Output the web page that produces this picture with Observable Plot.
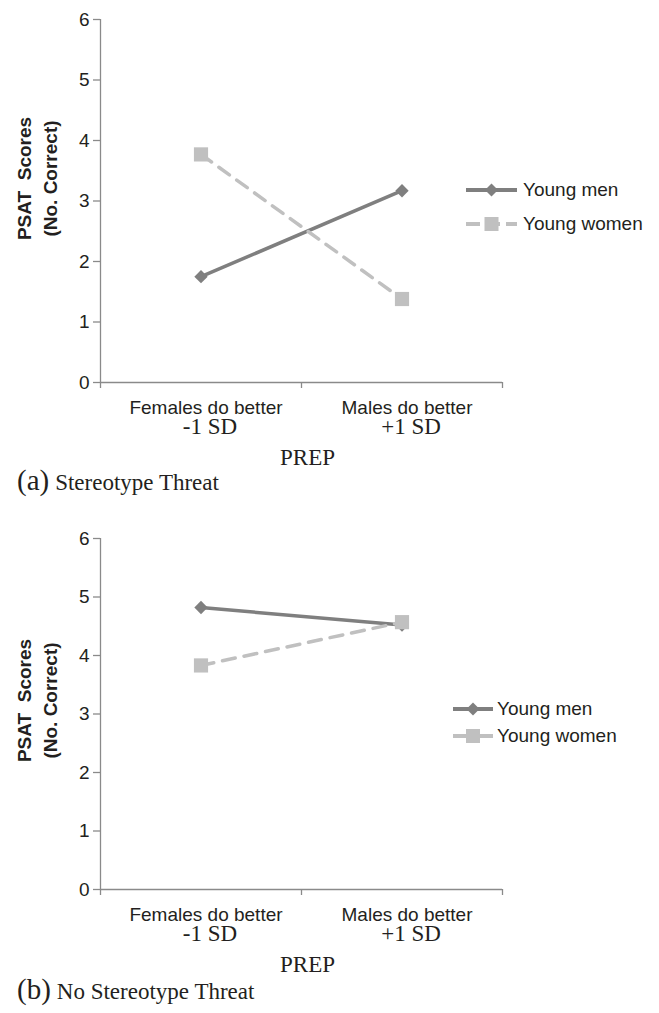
<!DOCTYPE html>
<html><head><meta charset="utf-8">
<script src="https://cdn.jsdelivr.net/npm/d3@7"></script>
<script src="https://cdn.jsdelivr.net/npm/@observablehq/plot@0.6"></script>
<style>
body{margin:0;background:#fff;}
#root{position:relative;width:659px;height:1013px;overflow:hidden;background:#fff;}
.panel{position:absolute;left:0;}
.panel svg{display:block;}
.legend-row{position:absolute;display:flex;align-items:center;white-space:nowrap;height:24px;font-family:"Liberation Sans",Arial,sans-serif;font-size:19px;color:#231f20;}
.legend-row svg{display:block;}
.caption{position:absolute;left:17px;font-family:"Liberation Serif","Times New Roman",serif;color:#231f20;white-space:nowrap;font-size:29px;line-height:30px;}
.caption span{font-size:23px;margin-left:6px;}
</style></head><body><div id="root"></div>
<script>
// ---- data ----
const categories = ["Females do better", "Males do better"];
const sdLabels = ["-1 SD", "+1 SD"];
const series = ["Young men", "Young women"];
const yTicks = [0, 1, 2, 3, 4, 5, 6];
const xLabel = "PREP";
const yTitle = "PSAT\u00A0 Scores\n(No. Correct)";
const threatMen = [1.75, 3.17];
const threatWomen = [3.77, 1.38];
const noThreatMen = [4.82, 4.52];
const noThreatWomen = [3.83, 4.57];
const captionLetters = ["(a)", "(b)"];
const captionTexts = ["Stereotype Threat", "No Stereotype Threat"];

// ---- styles ----
const menColor = "#7f7f7f";
const womenColor = "#c0c0c0";
const axisColor = "#8a8a8a";
const textColor = "#231f20";
const serif = "Liberation Serif, Times New Roman, serif";
const sans = "Liberation Sans, Arial, sans-serif";

const root = document.getElementById("root");

function makePanel(cfg) {
  const menRows = categories.map((c, i) => ({series: series[0], pos: i + 0.5, value: cfg.men[i]}));
  const womenRows = categories.map((c, i) => ({series: series[1], pos: i + 0.5, value: cfg.women[i]}));
  const labels = categories.map((c, i) => ({pos: i + 0.5, cat: c, sd: sdLabels[i]}));
  const n = categories.length;
  const plot = Plot.plot({
    width: 659,
    height: cfg.height,
    marginTop: cfg.marginTop,
    marginBottom: 85,
    marginLeft: 100,
    marginRight: 157,
    style: {fontFamily: sans, fontSize: "19px", color: textColor, background: "transparent", overflow: "visible"},
    x: {domain: [0, n], axis: null},
    y: {domain: [yTicks[0], yTicks[yTicks.length - 1]], axis: null},
    marks: [
      Plot.ruleY([yTicks[0]], {x1: 0, x2: n, stroke: axisColor, strokeWidth: 1.3}),
      Plot.ruleX([0], {y1: yTicks[0], y2: yTicks[yTicks.length - 1], stroke: axisColor, strokeWidth: 1.3}),
      Plot.axisY({ticks: yTicks, tickSize: 7, tickPadding: 4, stroke: axisColor, strokeWidth: 1.3, label: null, fontSize: 19, fill: textColor, tickFormat: d3.format("d")}),
      Plot.axisX({ticks: d3.range(n + 1), tickSize: 6, stroke: axisColor, strokeWidth: 1.3, label: null, tickFormat: () => ""}),
      Plot.text(labels, {x: "pos", text: "cat", frameAnchor: "bottom", lineAnchor: "bottom", dy: cfg.catDy, dx: 5, fill: textColor, fontSize: 19}),
      Plot.text(labels, {x: "pos", text: "sd", frameAnchor: "bottom", lineAnchor: "bottom", dy: cfg.catDy + 20, dx: 9, fill: textColor, fontSize: 23, fontFamily: serif}),
      Plot.text([xLabel], {text: d => d, frameAnchor: "bottom", lineAnchor: "bottom", dy: cfg.catDy + 51, dx: 6, fill: textColor, fontSize: 23, fontFamily: serif}),
      Plot.text([yTitle], {text: d => d, frameAnchor: "left", textAnchor: "middle", lineAnchor: "middle", rotate: -90, dx: -65, dy: cfg.titleDy, lineHeight: 1.37, fontWeight: "bold", fontSize: 19, fill: textColor}),
      Plot.line(menRows, {x: "pos", y: "value", stroke: menColor, strokeWidth: 3.5}),
      Plot.line(womenRows, {x: "pos", y: "value", stroke: womenColor, strokeWidth: 3.5, strokeDasharray: "13,9"}),
      Plot.dot(menRows, {x: "pos", y: "value", symbol: "diamond2", r: 6, fill: menColor}),
      Plot.dot(womenRows, {x: "pos", y: "value", symbol: "square", r: 8, fill: womenColor})
    ]
  });
  const wrap = document.createElement("div");
  wrap.className = "panel";
  wrap.style.top = cfg.top + "px";
  wrap.appendChild(plot);
  root.appendChild(wrap);

  // legend
  const L = cfg.legend;
  const items = [
    {label: series[0], color: menColor, marker: "diamond", dash: null, y: L.y[0]},
    {label: series[1], color: womenColor, marker: "square", dash: L.womenDash, y: L.y[1]}
  ];
  for (const it of items) {
    const row = document.createElement("div");
    row.className = "legend-row";
    row.style.left = L.x + "px";
    row.style.top = (it.y - 12) + "px";
    const w = L.w, c = w / 2;
    const marker = it.marker === "diamond"
      ? `<polygon points="${c},5.5 ${c + 6.5},12 ${c},18.5 ${c - 6.5},12" fill="${it.color}"/>`
      : `<rect x="${c - 7}" y="5" width="14" height="14" fill="${it.color}"/>`;
    row.innerHTML = `<svg width="${w}" height="24"><line x1="0" x2="${w}" y1="12" y2="12" stroke="${it.color}" stroke-width="4" ${it.dash ? `stroke-dasharray="${it.dash}"` : ""}/>${marker}</svg><span style="margin-left:${L.gap}px">${it.label}</span>`;
    root.appendChild(row);
  }

  // caption
  const cap = document.createElement("div");
  cap.className = "caption";
  cap.style.top = cfg.captionTop + "px";
  cap.innerHTML = `${cfg.letter}<span>${cfg.caption}</span>`;
  root.appendChild(cap);
}

makePanel({
  men: threatMen, women: threatWomen,
  top: 0, height: 467, marginTop: 19, catDy: 31, titleDy: -22.5,
  legend: {x: 466, w: 51, gap: 6, y: [190, 224], womenDash: "14,6"},
  letter: captionLetters[0], caption: captionTexts[0], captionTop: 465
});
makePanel({
  men: noThreatMen, women: noThreatWomen,
  top: 489, height: 485, marginTop: 49, catDy: 31, titleDy: -13.5,
  legend: {x: 453, w: 40, gap: 4, y: [709, 736], womenDash: null},
  letter: captionLetters[1], caption: captionTexts[1], captionTop: 974
});
</script>
</body></html>
